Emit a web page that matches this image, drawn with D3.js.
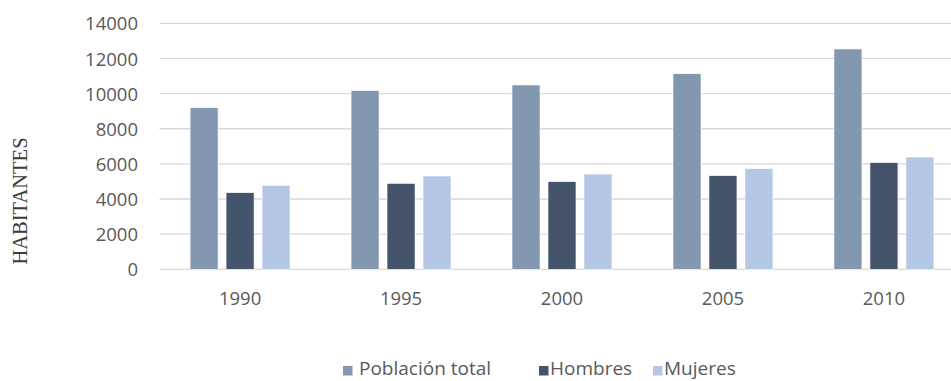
<!DOCTYPE html>
<html><head><meta charset="utf-8">
<script src="https://cdn.jsdelivr.net/npm/d3@7"></script>
<style>
html,body{margin:0;padding:0;background:#fff;}
svg{display:block;}
</style>
</head><body>
<svg id="chart" width="951" height="381"></svg>
<script>
const years = ["1990", "1995", "2000", "2005", "2010"];
const seriesNames = ["Población total", "Hombres", "Mujeres"];
const poblacionTotal = [9200, 10170, 10490, 11130, 12540];
const hombres = [4360, 4890, 4990, 5330, 6070];
const mujeres = [4780, 5310, 5420, 5730, 6390];
const yTicks = [0, 2000, 4000, 6000, 8000, 10000, 12000, 14000];
const colors = ["#8497B0", "#44546A", "#B4C7E7"];
const yTitle = "HABITANTES";

const seriesValues = [poblacionTotal, hombres, mujeres];
const svg = d3.select("#chart");
const W = 951, H = 381;
const plotLeft = 159.5, plotRight = 964.5, plotTop = 23.3, plotBottom = 269.3;

const x0 = d3.scaleBand().domain(years).range([plotLeft, plotRight]).paddingInner(0.379).paddingOuter(0.19);
const x1 = d3.scaleBand().domain(seriesNames).range([0, x0.bandwidth()]).paddingInner(0.222).paddingOuter(0);
const y = d3.scaleLinear().domain([0, 14000]).range([plotBottom, plotTop]);

const font = "'Open Sans', 'DejaVu Sans', sans-serif";
const txt = "#595959";

// gridlines
svg.append("g").selectAll("line").data(yTicks).join("line")
  .attr("x1", plotLeft).attr("x2", W)
  .attr("y1", d => y(d)).attr("y2", d => y(d))
  .attr("stroke", "#d9d9d9").attr("stroke-width", 1.3);

// y axis labels
const yAxis = d3.axisLeft(y).tickValues(yTicks).tickSize(0).tickPadding(0).tickFormat(d3.format("d"));
const gy = svg.append("g").attr("transform", `translate(138,0)`).call(yAxis);
gy.select(".domain").remove();
gy.selectAll("text").attr("font-family", font).attr("font-size", 18.5).attr("fill", txt).attr("dy", "0.36em");

// x axis labels
const xAxis = d3.axisBottom(x0).tickSize(0).tickPadding(0);
const gx = svg.append("g").attr("transform", `translate(0,${plotBottom})`).call(xAxis);
gx.select(".domain").remove();
gx.selectAll("text").attr("font-family", font).attr("font-size", 18.5).attr("fill", txt).attr("dy", null).attr("y", 36);

// bars
const rows = years.map((yr, i) => ({year: yr, vals: seriesNames.map((s, j) => ({s, j, v: seriesValues[j][i]}))}));
const groups = svg.append("g").selectAll("g").data(rows).join("g")
  .attr("transform", d => `translate(${x0(d.year)},0)`);
groups.selectAll("rect").data(d => d.vals).join("rect")
  .attr("x", d => x1(d.s))
  .attr("width", x1.bandwidth())
  .attr("y", d => y(d.v))
  .attr("height", d => y(0) - y(d.v))
  .attr("fill", d => colors[d.j])
  .attr("stroke", "#ffffff").attr("stroke-width", 0.6);

// y title
svg.append("text")
  .attr("transform", `translate(27,201) rotate(-90)`)
  .attr("text-anchor", "middle")
  .attr("font-family", "'Liberation Serif', 'Times New Roman', serif")
  .attr("font-size", 20.5)
  .attr("fill", "#3a3a3a")
  .text(yTitle);

// legend
const legendX = [343, 539, 653];
const lg = svg.append("g").selectAll("g").data(seriesNames).join("g")
  .attr("transform", (d, i) => `translate(${legendX[i]},0)`);
lg.append("rect").attr("x", 0).attr("y", 366).attr("width", 9.5).attr("height", 9.5)
  .attr("fill", (d, i) => colors[i]);
lg.append("text").attr("x", (d, i) => i === 0 ? 16 : 11).attr("y", 375)
  .attr("font-family", font).attr("font-size", 19).attr("fill", txt)
  .text(d => d);
</script>
</body></html>
